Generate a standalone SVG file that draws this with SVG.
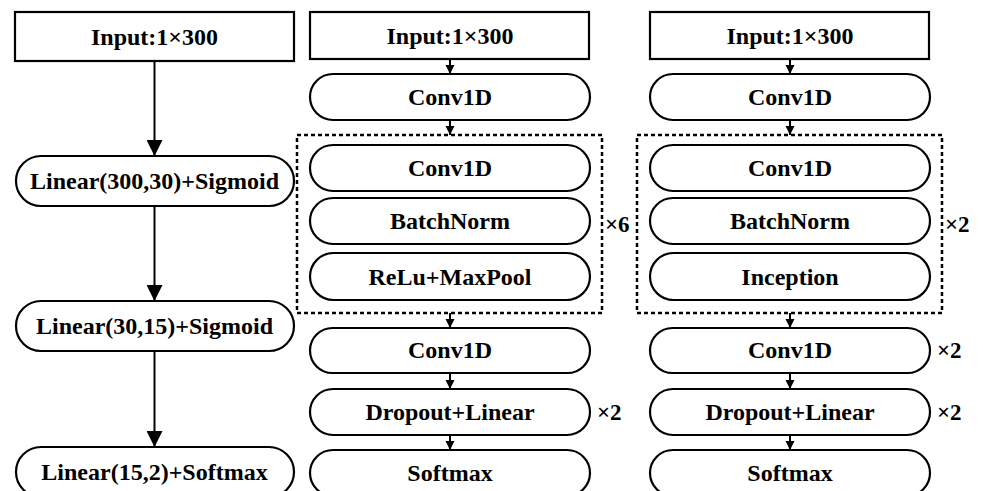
<svg xmlns="http://www.w3.org/2000/svg" width="983" height="491" viewBox="0 0 983 491">
<style>
.b{fill:#fff;stroke:#000;stroke-width:2.2}
.d{fill:none;stroke:#000;stroke-width:2.5;stroke-dasharray:4 3}
.t{font-family:'Liberation Serif','Times New Roman','DejaVu Serif',serif;font-weight:700;font-size:24px;text-anchor:middle;fill:#000}
.m{font-family:'Liberation Serif','Times New Roman','DejaVu Serif',serif;font-weight:700;font-size:23px;text-anchor:start;fill:#000}
.c{stroke:#000;stroke-width:2;fill:none}
</style>
<defs>
<marker id="big" markerUnits="userSpaceOnUse" markerWidth="18" markerHeight="16" refX="16" refY="8" orient="auto"><path d="M0,0 L16,8 L0,16 Z" fill="#000"/></marker>
<marker id="sm" markerUnits="userSpaceOnUse" markerWidth="10" markerHeight="10" refX="9" refY="5" orient="auto"><path d="M0,0.5 L9,5 L0,9.5 Z" fill="#000"/></marker>
</defs>
<rect width="983" height="491" fill="#fff"/>
<g id="connectors">
<line class="c" x1="154.5" y1="61" x2="154.5" y2="156" marker-end="url(#big)"/>
<line class="c" x1="154.5" y1="206" x2="154.5" y2="301" marker-end="url(#big)"/>
<line class="c" x1="154.5" y1="351" x2="154.5" y2="447" marker-end="url(#big)"/>
<line class="c" x1="450" y1="59" x2="450" y2="74" marker-end="url(#sm)"/>
<line class="c" x1="450" y1="120" x2="450" y2="135" marker-end="url(#sm)"/>
<line class="c" x1="450" y1="313" x2="450" y2="328" marker-end="url(#sm)"/>
<line class="c" x1="450" y1="373" x2="450" y2="389" marker-end="url(#sm)"/>
<line class="c" x1="450" y1="435" x2="450" y2="450" marker-end="url(#sm)"/>
<line class="c" x1="790" y1="59" x2="790" y2="74" marker-end="url(#sm)"/>
<line class="c" x1="790" y1="120" x2="790" y2="135" marker-end="url(#sm)"/>
<line class="c" x1="790" y1="313" x2="790" y2="328" marker-end="url(#sm)"/>
<line class="c" x1="790" y1="373" x2="790" y2="389" marker-end="url(#sm)"/>
<line class="c" x1="790" y1="435" x2="790" y2="450" marker-end="url(#sm)"/>
</g>
<g id="c1-input"><rect class="b" x="15" y="12" width="279" height="49"/><text class="t" x="154.5" y="44.5">Input:1×300</text></g>
<g id="c1-lin1"><rect class="b" x="16" y="156" width="278" height="50" rx="25"/><text class="t" x="154.5" y="189">Linear(300,30)+Sigmoid</text></g>
<g id="c1-lin2"><rect class="b" x="16" y="301" width="278" height="50" rx="25"/><text class="t" x="154.5" y="334">Linear(30,15)+Sigmoid</text></g>
<g id="c1-lin3"><rect class="b" x="16" y="447" width="278" height="50" rx="25"/><text class="t" x="154.5" y="480">Linear(15,2)+Softmax</text></g>

<g id="c2-block"><rect class="d" x="297" y="135" width="305" height="178"/><text class="m" x="605" y="232">×6</text></g>
<g id="c2-input"><rect class="b" x="310" y="12" width="279" height="47"/><text class="t" x="450" y="44">Input:1×300</text></g>
<g id="c2-conv0"><rect class="b" x="310" y="74" width="280" height="46" rx="23"/><text class="t" x="450" y="105">Conv1D</text></g>
<g id="c2-conv1"><rect class="b" x="310" y="145" width="280" height="46" rx="23"/><text class="t" x="450" y="176">Conv1D</text></g>
<g id="c2-bn"><rect class="b" x="310" y="198" width="280" height="46" rx="23"/><text class="t" x="450" y="229">BatchNorm</text></g>
<g id="c2-relu"><rect class="b" x="310" y="253" width="280" height="47" rx="23.5"/><text class="t" x="450" y="285">ReLu+MaxPool</text></g>
<g id="c2-conv2"><rect class="b" x="310" y="328" width="280" height="45" rx="22.5"/><text class="t" x="450" y="358">Conv1D</text></g>
<g id="c2-drop"><rect class="b" x="310" y="389" width="280" height="46" rx="23"/><text class="t" x="450" y="420">Dropout+Linear</text><text class="m" x="597" y="420">×2</text></g>
<g id="c2-soft"><rect class="b" x="310" y="450" width="280" height="46" rx="23"/><text class="t" x="450" y="481">Softmax</text></g>

<g id="c3-block"><rect class="d" x="637" y="135" width="305" height="178"/><text class="m" x="945" y="232">×2</text></g>
<g id="c3-input"><rect class="b" x="650" y="12" width="279" height="47"/><text class="t" x="790" y="44">Input:1×300</text></g>
<g id="c3-conv0"><rect class="b" x="650" y="74" width="280" height="46" rx="23"/><text class="t" x="790" y="105">Conv1D</text></g>
<g id="c3-conv1"><rect class="b" x="650" y="145" width="280" height="46" rx="23"/><text class="t" x="790" y="176">Conv1D</text></g>
<g id="c3-bn"><rect class="b" x="650" y="198" width="280" height="46" rx="23"/><text class="t" x="790" y="229">BatchNorm</text></g>
<g id="c3-inc"><rect class="b" x="650" y="253" width="280" height="47" rx="23.5"/><text class="t" x="790" y="285">Inception</text></g>
<g id="c3-conv2"><rect class="b" x="650" y="328" width="280" height="45" rx="22.5"/><text class="t" x="790" y="358">Conv1D</text><text class="m" x="937" y="358">×2</text></g>
<g id="c3-drop"><rect class="b" x="650" y="389" width="280" height="46" rx="23"/><text class="t" x="790" y="420">Dropout+Linear</text><text class="m" x="937" y="420">×2</text></g>
<g id="c3-soft"><rect class="b" x="650" y="450" width="280" height="46" rx="23"/><text class="t" x="790" y="481">Softmax</text></g>
</svg>
